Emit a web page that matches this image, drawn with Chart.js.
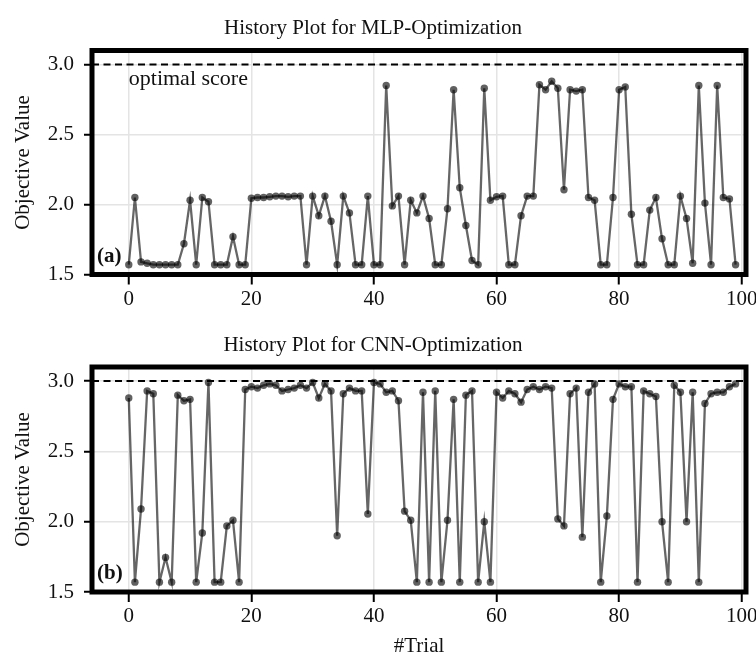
<!DOCTYPE html>
<html>
<head>
<meta charset="utf-8">
<script src="https://cdn.jsdelivr.net/npm/chart.js@4.4.1/dist/chart.umd.min.js"></script>
<style>
  html, body { margin: 0; padding: 0; background: #fff; }
  #wrap { position: relative; width: 756px; height: 659px; }
  canvas { position: absolute; left: 0; }
</style>
</head>
<body>
<div id="wrap">
  <canvas id="mlpChart" width="756" height="320" style="top:0"></canvas>
  <canvas id="cnnChart" width="756" height="339" style="top:320px"></canvas>
</div>
<script>
// trial numbers (x axis)
var trials = [0,1,2,3,4,5,6,7,8,9,10,11,12,13,14,15,16,17,18,19,
  20,21,22,23,24,25,26,27,28,29,30,31,32,33,34,35,36,37,38,39,
  40,41,42,43,44,45,46,47,48,49,50,51,52,53,54,55,56,57,58,59,
  60,61,62,63,64,65,66,67,68,69,70,71,72,73,74,75,76,77,78,79,
  80,81,82,83,84,85,86,87,88,89,90,91,92,93,94,95,96,97,98,99];

// objective value per trial
var mlpScores = [1.57,2.05,1.59,1.58,1.57,1.57,1.57,1.57,1.57,1.72,
  2.03,1.57,2.05,2.02,1.57,1.57,1.57,1.77,1.57,1.57,
  2.045,2.05,2.05,2.055,2.06,2.06,2.055,2.06,2.06,1.57,
  2.06,1.92,2.06,1.88,1.57,2.06,1.94,1.57,1.57,2.06,
  1.57,1.57,2.85,1.99,2.06,1.57,2.03,1.94,2.06,1.90,
  1.57,1.57,1.97,2.82,2.12,1.85,1.60,1.57,2.83,2.03,
  2.055,2.06,1.57,1.57,1.92,2.06,2.06,2.855,2.82,2.88,
  2.83,2.105,2.82,2.81,2.82,2.05,2.03,1.57,1.57,2.05,
  2.82,2.84,1.93,1.57,1.57,1.96,2.05,1.755,1.57,1.57,
  2.06,1.90,1.58,2.85,2.01,1.57,2.85,2.05,2.04,1.57];

var cnnScores = [2.88,1.57,2.09,2.93,2.91,1.57,1.745,1.57,2.90,2.86,
  2.87,1.57,1.92,2.99,1.57,1.57,1.97,2.01,1.57,2.94,
  2.96,2.95,2.97,2.98,2.97,2.93,2.94,2.95,2.97,2.95,
  2.99,2.88,2.98,2.93,1.90,2.91,2.95,2.93,2.93,2.055,
  2.99,2.98,2.92,2.93,2.86,2.075,2.01,1.57,2.92,1.57,
  2.93,1.57,2.01,2.87,1.57,2.90,2.93,1.57,2.00,1.57,
  2.92,2.88,2.93,2.91,2.85,2.94,2.96,2.94,2.96,2.95,
  2.02,1.97,2.91,2.95,1.89,2.92,2.98,1.57,2.04,2.87,
  2.98,2.96,2.96,1.57,2.93,2.91,2.89,2.00,1.57,2.97,
  2.92,2.00,2.92,1.57,2.84,2.91,2.92,2.92,2.96,2.98];

var optimalScore = 3.0;
var xTicks = [0, 20, 40, 60, 80, 100];
var yTicks = [1.5, 2.0, 2.5, 3.0];
var xMin = -6, xMax = 100.7;
var yMin = 1.5, yMax = 3.1;

var serif = '"Liberation Serif", "DejaVu Serif", serif';
var fs = 21;

// thick box round the plot area plus the little text notes
var framePlugin = {
  id: 'frame',
  afterDraw: function(chart) {
    var ca = chart.chartArea, ctx = chart.ctx;
    var o = chart.options.plugins.frame || {};
    ctx.save();
    ctx.lineWidth = 5;
    ctx.strokeStyle = '#000';
    ctx.strokeRect(ca.left, ca.top, ca.right - ca.left, ca.bottom - ca.top);
    ctx.fillStyle = '#111';
    if (o.note) {
      ctx.font = '22px ' + serif;
      ctx.textAlign = 'left';
      ctx.textBaseline = 'middle';
      ctx.fillText(o.note, chart.scales.x.getPixelForValue(0),
        chart.scales.y.getPixelForValue(optimalScore) + 15);
    }
    if (o.tag) {
      ctx.font = 'bold ' + fs + 'px ' + serif;
      ctx.textAlign = 'left';
      ctx.textBaseline = 'middle';
      ctx.fillText(o.tag, ca.left + 5, ca.bottom - 18);
    }
    ctx.restore();
  }
};

function makeHistory(id, title, scores, cfg) {
  var ctx = document.getElementById(id).getContext('2d');
  var points = trials.map(function(t, i) { return {x: t, y: scores[i]}; });
  return new Chart(ctx, {
    type: 'line',
    data: {
      datasets: [{
        label: 'history',
        data: points,
        borderColor: 'rgba(0,0,0,0.6)',
        borderWidth: 2.3,
        pointRadius: 3.7,
        pointBorderWidth: 0,
        pointBackgroundColor: 'rgba(0,0,0,0.62)',
        tension: 0
      }, {
        label: 'optimal score',
        data: [{x: xMin, y: optimalScore}, {x: xMax, y: optimalScore}],
        borderColor: '#000',
        borderWidth: 2,
        borderDash: [7, 4.5],
        pointRadius: 0
      }]
    },
    plugins: [framePlugin],
    options: {
      responsive: false,
      animation: false,
      devicePixelRatio: 1,
      layout: { padding: { left: 0, right: 10, top: 0, bottom: 0 } },
      plugins: {
        legend: { display: false },
        tooltip: { enabled: false },
        title: {
          display: true,
          text: title,
          color: '#111',
          font: { family: serif, size: fs, weight: 'normal', lineHeight: 1.2 },
          padding: { top: cfg.titleTop, bottom: cfg.titleBottom }
        },
        frame: { note: cfg.note, tag: cfg.tag }
      },
      scales: {
        x: {
          type: 'linear',
          min: xMin,
          max: xMax,
          afterBuildTicks: function(s) { s.ticks = xTicks.map(function(v) { return {value: v}; }); },
          afterFit: function(s) {
            s.height = cfg.xHeight;
            s.paddingLeft = 0;
            s.paddingRight = 0;
          },
          border: { display: false },
          grid: { color: '#e4e4e4', lineWidth: 1.5, tickColor: '#000', tickLength: 10, tickWidth: 2 },
          ticks: {
            color: '#111', padding: 2, maxRotation: 0,
            font: { family: serif, size: fs },
            callback: function(v) { return v; }
          },
          title: {
            display: !!cfg.xTitle,
            text: cfg.xTitle || '',
            color: '#111',
            font: { family: serif, size: fs, lineHeight: 1.2 },
            padding: { top: 0, bottom: 0 }
          }
        },
        y: {
          min: yMin,
          max: yMax,
          afterBuildTicks: function(s) { s.ticks = yTicks.map(function(v) { return {value: v}; }); },
          afterFit: function(s) {
            s.width = 92;
            s.paddingTop = 0;
            s.paddingBottom = 0;
          },
          border: { display: false },
          grid: { color: '#e4e4e4', lineWidth: 1.5, tickColor: '#000', tickLength: 8, tickWidth: 2 },
          ticks: {
            color: '#111', padding: 10,
            font: { family: serif, size: fs },
            callback: function(v) { return v.toFixed(1); }
          },
          title: {
            display: true,
            text: 'Objective Value',
            color: '#111',
            font: { family: serif, size: fs, lineHeight: 1.2 },
            padding: { top: 11, bottom: 0 }
          }
        }
      }
    }
  });
}

document.addEventListener("DOMContentLoaded", function() {
  makeHistory('mlpChart', 'History Plot for MLP-Optimization', mlpScores,
    { titleTop: 16, titleBottom: 9.3, xHeight: 45.5, note: 'optimal score', tag: '(a)' });
  makeHistory('cnnChart', 'History Plot for CNN-Optimization', cnnScores,
    { titleTop: 13, titleBottom: 8.8, xHeight: 67, tag: '(b)', xTitle: '#Trial' });
});
</script>
</body>
</html>
